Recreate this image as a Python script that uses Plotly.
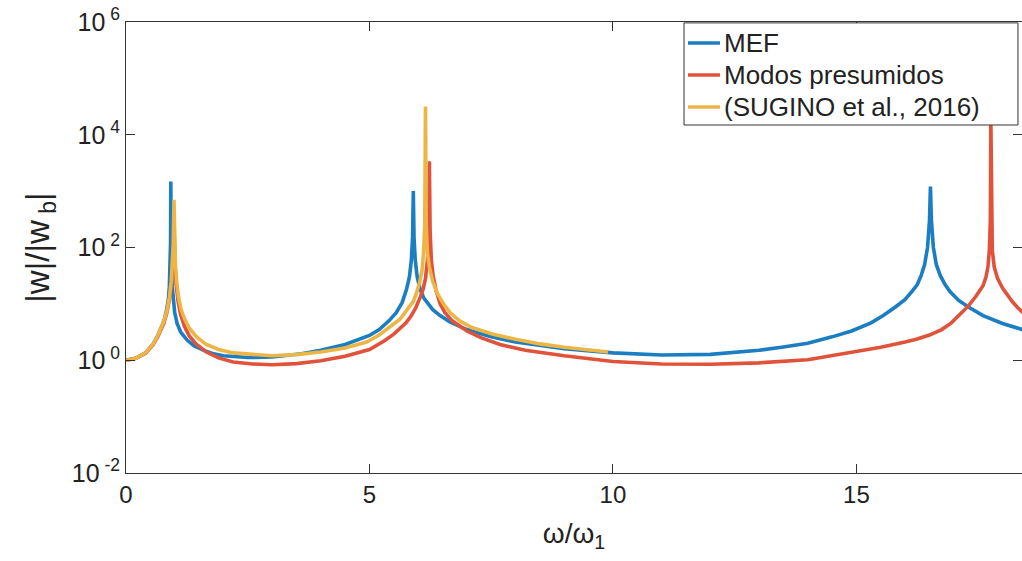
import plotly.graph_objects as go

# ---- data ----
mef_x = [0.0, 0.2, 0.4, 0.55, 0.65, 0.72, 0.78, 0.83, 0.87, 0.89, 0.905, 0.915,
         0.92, 0.925, 0.935, 0.95, 0.97, 1.0, 1.05, 1.12, 1.25, 1.4, 1.6, 1.8,
         2.0, 2.5, 3.0, 3.3, 3.6, 4.0, 4.5, 5.0, 5.2, 5.4, 5.55, 5.67, 5.76,
         5.82, 5.86, 5.885, 5.9, 5.915, 5.94, 5.98, 6.04, 6.12, 6.2, 6.3, 6.45,
         6.65, 7.0, 7.5, 8.0, 9.0, 10.0, 11.0, 12.0, 13.0, 13.5, 14.0, 14.5,
         14.9, 15.3, 15.55, 15.8, 16.0, 16.15, 16.25, 16.33, 16.4, 16.46, 16.5,
         16.52, 16.54, 16.58, 16.64, 16.72, 16.82, 16.92, 17.1, 17.3, 17.6,
         18.0, 18.4, 18.5]
mef_y = [1.0, 1.08, 1.35, 1.9, 2.7, 3.6, 5.0, 7.5, 12, 20, 40, 120,
         1480, 120, 40, 20, 11, 7.0, 4.5, 3.2, 2.3, 1.8, 1.5, 1.3,
         1.2, 1.12, 1.14, 1.2, 1.3, 1.5, 1.9, 2.75, 3.5, 5.0, 7.0, 10.5, 18,
         30, 60, 150, 1000, 150, 60, 30, 18, 12.5, 10, 7.9, 6.2,
         4.8, 3.5, 2.6, 2.1, 1.6, 1.35, 1.24, 1.27, 1.5, 1.72, 2.0, 2.6,
         3.3, 4.6, 6.2, 8.8, 12, 17, 22, 32, 50, 100, 300,
         1200, 300, 100, 50, 32, 22, 16.5, 11.5, 8.8, 6.2,
         4.5, 3.5, 3.3]

modos_x = [0.0, 0.2, 0.4, 0.55, 0.65, 0.72, 0.78, 0.84, 0.9, 0.93, 0.955, 0.97,
           0.98, 0.99, 1.005, 1.03, 1.07, 1.12, 1.2, 1.3, 1.45, 1.65, 1.9, 2.2,
           2.6, 3.0, 3.5, 4.0, 4.5, 5.0, 5.3, 5.5, 5.63, 5.75, 5.85, 5.95, 6.04,
           6.1, 6.15, 6.19, 6.215, 6.23, 6.245, 6.27, 6.31, 6.37, 6.45, 6.55,
           6.7, 7.0, 7.3, 7.68, 8.2, 9.0, 10.0, 11.0, 12.0, 13.0, 14.0, 14.87,
           15.5, 16.0, 16.23, 16.5, 16.75, 16.95, 17.12, 17.3, 17.45, 17.6,
           17.66, 17.7, 17.73, 17.75, 17.76, 17.77, 17.79, 17.83, 17.9, 18.0,
           18.1, 18.2, 18.3, 18.4, 18.5]
modos_y = [1.0, 1.08, 1.33, 1.85, 2.6, 3.4, 4.6, 7.0, 13, 22, 50, 130,
           400, 130, 50, 22, 11, 6.5, 4.0, 2.7, 1.9, 1.4, 1.1, 0.93,
           0.86, 0.83, 0.87, 0.98, 1.18, 1.55, 2.2, 2.9, 3.6, 4.6, 6.0, 8.5, 13,
           18, 28, 60, 200, 3400, 200, 60, 30, 17, 10, 7.0,
           5.0, 3.3, 2.5, 1.9, 1.5, 1.2, 0.95, 0.86, 0.85, 0.9, 1.02, 1.38,
           1.7, 2.1, 2.35, 2.8, 3.5, 4.6, 6.3, 9.2, 13.5, 21,
           30, 45, 90, 300, 20000, 300, 90, 45, 28, 19,
           14, 11, 8.8, 7.1, 6.0]

sugino_x = [0.0, 0.2, 0.4, 0.55, 0.65, 0.72, 0.78, 0.84, 0.89, 0.93, 0.955,
            0.972, 0.985, 0.998, 1.015, 1.04, 1.08, 1.13, 1.2, 1.3, 1.45, 1.65,
            1.9, 2.2, 2.6, 3.0, 3.5, 4.0, 4.5, 4.94, 5.2, 5.45, 5.63, 5.8, 5.9,
            5.97, 6.03, 6.08, 6.11, 6.135, 6.15, 6.165, 6.19, 6.23, 6.3, 6.4,
            6.52, 6.65, 6.85, 7.1, 7.54, 8.0, 8.5, 9.0, 9.5, 9.9]
sugino_y = [1.0, 1.08, 1.35, 1.9, 2.7, 3.6, 5.0, 7.5, 13, 25, 50,
            120, 700, 120, 50, 25, 13, 8.0, 5.5, 3.7, 2.6, 1.9,
            1.55, 1.35, 1.25, 1.2, 1.26, 1.4, 1.65, 2.1, 2.8, 4.0, 5.4, 8.5, 11,
            16, 24, 40, 80, 250, 31600, 250, 80, 45, 25, 15,
            10, 7.1, 5.0, 3.8, 2.9, 2.35, 1.95, 1.7, 1.5, 1.4]

series_names = ["MEF", "Modos presumidos", "(SUGINO et al., 2016)"]
series_colors = ["#1b7dc2", "#e0533a", "#edb544"]

y_tickvals = [1e-2, 1e0, 1e2, 1e4, 1e6]
y_ticktext = ["10<sup> -2</sup>", "10<sup> 0</sup>", "10<sup> 2</sup>",
              "10<sup> 4</sup>", "10<sup> 6</sup>"]
x_tickvals = [0, 5, 10, 15]
x_ticktext = ["0", "5", "10", "15"]

FONT = "Liberation Sans, Arial, Helvetica, sans-serif"
TXT = "#222222"
AX = "#333333"

fig = go.Figure()
for xs, ys, name, col in zip([mef_x, modos_x, sugino_x],
                             [mef_y, modos_y, sugino_y],
                             series_names, series_colors):
    fig.add_trace(go.Scatter(x=xs, y=ys, mode="lines", name=name,
                             showlegend=False,
                             line=dict(color=col, width=3.6)))

# legend: white frame above the curves, with line samples and labels
fig.add_shape(type="rect", xref="paper", yref="paper",
              x0=0.6228, x1=0.9955, y0=0.7716, y1=0.998,
              line=dict(color=AX, width=1), fillcolor="white",
              layer="above")
legend_rows_y = [0.9534, 0.8825, 0.8115]
for name, col, ly in zip(series_names, series_colors, legend_rows_y):
    fig.add_shape(type="line", xref="paper", yref="paper",
                  x0=0.6272, x1=0.6629, y0=ly, y1=ly,
                  line=dict(color=col, width=3.6), layer="above")
    fig.add_annotation(xref="paper", yref="paper", x=0.6652, y=ly,
                       xanchor="left", yanchor="middle", showarrow=False,
                       text=name, font=dict(family=FONT, size=26, color=TXT))

fig.update_layout(
    width=1022, height=561,
    margin=dict(l=126, r=0, t=22, b=88),
    paper_bgcolor="white", plot_bgcolor="white",
    font=dict(family=FONT, color=TXT, size=24),
    showlegend=False,
    xaxis=dict(range=[0, 18.4], tickvals=x_tickvals, ticktext=x_ticktext,
               ticks="inside", ticklen=9, tickcolor=AX,
               showline=True, linecolor=AX, linewidth=1,
               mirror="ticks", showgrid=False, zeroline=False,
               tickfont=dict(size=24),
               title=dict(text="ω/ω<sub>1</sub>", font=dict(size=28),
                          standoff=16)),
    yaxis=dict(type="log", range=[-2, 6], tickvals=y_tickvals,
               ticktext=y_ticktext,
               ticks="inside", ticklen=9, tickcolor=AX,
               showline=True, linecolor=AX, linewidth=1,
               mirror="ticks", showgrid=False, zeroline=False,
               tickfont=dict(size=25),
               title=dict(text="|w|/|w<sub> b</sub>|", font=dict(size=33),
                          standoff=12)),
)

fig.write_html("out.html")
